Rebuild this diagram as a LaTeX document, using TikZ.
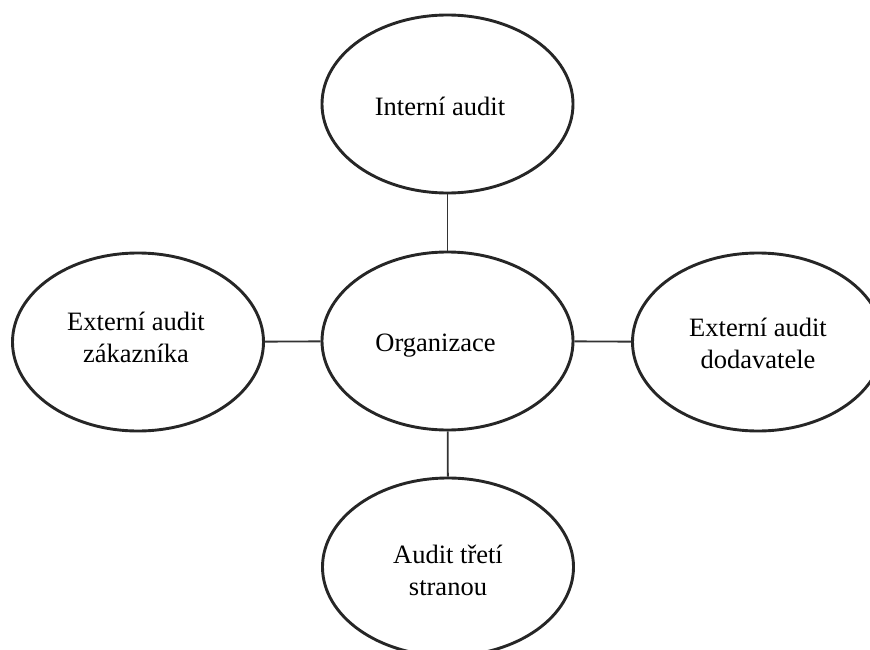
\documentclass[tikz,border=0pt]{standalone}
\usepackage{fontspec}
\setmainfont{Liberation Serif}
\usetikzlibrary{shapes.geometric}
\begin{document}
\begin{tikzpicture}[x=1pt,y=-1pt,
  oval/.style={draw=black!85, line width=2.9pt, ellipse, minimum width=251pt, minimum height=178pt, inner sep=0pt},
  lbl/.style={align=center, inner sep=0pt, font=\fontsize{26.5}{32}\selectfont},
  link/.style={draw=black!80, line width=1.9pt}]
\useasboundingbox (0,0) rectangle (870,650);
\clip (0,0) rectangle (870,650);
\node[oval] (top) at (447.5,104) {};
\node[oval] (org) at (447.5,341) {};
\node[oval] (left) at (138,342) {};
\node[oval] (right) at (758,342) {};
\node[oval] (bot) at (448,567) {};
\node[lbl] (ttop) at (440,106) {Interní audit};
\node[lbl] (torg) at (435.5,346) {Organizace};
\node[lbl] (tleft) at (136,337) {Externí audit\\zákazníka};
\node[lbl] (tright) at (758,343) {Externí audit\\dodavatele};
\node[lbl] (tbot) at (448,570) {Audit třetí\\stranou};
\draw[link] (top) -- (org);
\draw[link] (left) -- (org);
\draw[link] (org) -- (right);
\draw[link] (org) -- (bot);
\end{tikzpicture}
\end{document}
